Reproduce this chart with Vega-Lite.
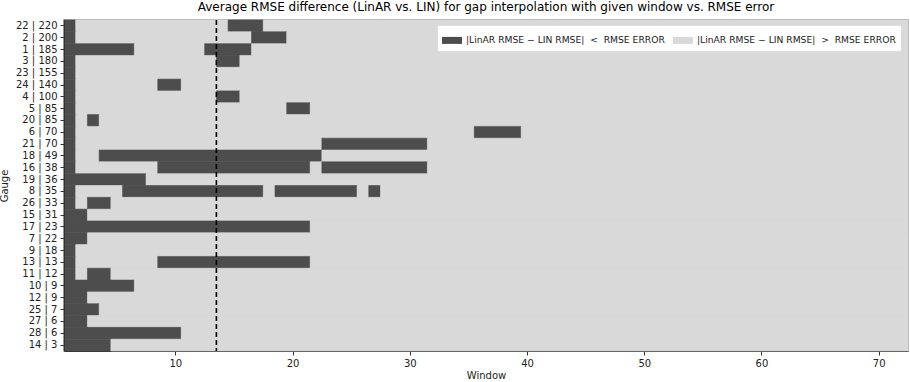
{
  "$schema": "https://vega.github.io/schema/vega-lite/v6.json",
  "autosize": {"type": "none"},
  "width": 844,
  "height": 331,
  "padding": {"left": 64, "top": 20, "right": 2, "bottom": 31},
  "background": "white",
  "title": {"text": "Average RMSE difference (LinAR vs. LIN) for gap interpolation with given window vs. RMSE error", "font": "DejaVu Sans", "fontSize": 12, "fontWeight": "normal", "color": "#000000", "offset": 5},
  "config": {
    "view": {"stroke": "#999999", "strokeWidth": 1.5, "fill": "#d9d9d9"},
    "font": "DejaVu Sans"
  },
  "datasets": {
    "cells": [
      {"gauge": "22 | 220", "from": 1, "to": 1, "status": "below"}, {"gauge": "22 | 220", "from": 2, "to": 14, "status": "above"}, {"gauge": "22 | 220", "from": 15, "to": 17, "status": "below"}, {"gauge": "22 | 220", "from": 18, "to": 72, "status": "above"},
      {"gauge": "2 | 200", "from": 1, "to": 1, "status": "below"}, {"gauge": "2 | 200", "from": 2, "to": 16, "status": "above"}, {"gauge": "2 | 200", "from": 17, "to": 19, "status": "below"}, {"gauge": "2 | 200", "from": 20, "to": 72, "status": "above"},
      {"gauge": "1 | 185", "from": 1, "to": 6, "status": "below"}, {"gauge": "1 | 185", "from": 7, "to": 12, "status": "above"}, {"gauge": "1 | 185", "from": 13, "to": 16, "status": "below"}, {"gauge": "1 | 185", "from": 17, "to": 72, "status": "above"},
      {"gauge": "3 | 180", "from": 1, "to": 1, "status": "below"}, {"gauge": "3 | 180", "from": 2, "to": 13, "status": "above"}, {"gauge": "3 | 180", "from": 14, "to": 15, "status": "below"}, {"gauge": "3 | 180", "from": 16, "to": 72, "status": "above"},
      {"gauge": "23 | 155", "from": 1, "to": 1, "status": "below"}, {"gauge": "23 | 155", "from": 2, "to": 72, "status": "above"},
      {"gauge": "24 | 140", "from": 1, "to": 1, "status": "below"}, {"gauge": "24 | 140", "from": 2, "to": 8, "status": "above"}, {"gauge": "24 | 140", "from": 9, "to": 10, "status": "below"}, {"gauge": "24 | 140", "from": 11, "to": 72, "status": "above"},
      {"gauge": "4 | 100", "from": 1, "to": 1, "status": "below"}, {"gauge": "4 | 100", "from": 2, "to": 13, "status": "above"}, {"gauge": "4 | 100", "from": 14, "to": 15, "status": "below"}, {"gauge": "4 | 100", "from": 16, "to": 72, "status": "above"},
      {"gauge": "5 | 85", "from": 1, "to": 1, "status": "below"}, {"gauge": "5 | 85", "from": 2, "to": 19, "status": "above"}, {"gauge": "5 | 85", "from": 20, "to": 21, "status": "below"}, {"gauge": "5 | 85", "from": 22, "to": 72, "status": "above"},
      {"gauge": "20 | 85", "from": 1, "to": 1, "status": "below"}, {"gauge": "20 | 85", "from": 2, "to": 2, "status": "above"}, {"gauge": "20 | 85", "from": 3, "to": 3, "status": "below"}, {"gauge": "20 | 85", "from": 4, "to": 72, "status": "above"},
      {"gauge": "6 | 70", "from": 1, "to": 1, "status": "below"}, {"gauge": "6 | 70", "from": 2, "to": 35, "status": "above"}, {"gauge": "6 | 70", "from": 36, "to": 39, "status": "below"}, {"gauge": "6 | 70", "from": 40, "to": 72, "status": "above"},
      {"gauge": "21 | 70", "from": 1, "to": 1, "status": "below"}, {"gauge": "21 | 70", "from": 2, "to": 22, "status": "above"}, {"gauge": "21 | 70", "from": 23, "to": 31, "status": "below"}, {"gauge": "21 | 70", "from": 32, "to": 72, "status": "above"},
      {"gauge": "18 | 49", "from": 1, "to": 1, "status": "below"}, {"gauge": "18 | 49", "from": 2, "to": 3, "status": "above"}, {"gauge": "18 | 49", "from": 4, "to": 22, "status": "below"}, {"gauge": "18 | 49", "from": 23, "to": 72, "status": "above"},
      {"gauge": "16 | 38", "from": 1, "to": 1, "status": "below"}, {"gauge": "16 | 38", "from": 2, "to": 8, "status": "above"}, {"gauge": "16 | 38", "from": 9, "to": 21, "status": "below"}, {"gauge": "16 | 38", "from": 22, "to": 22, "status": "above"}, {"gauge": "16 | 38", "from": 23, "to": 31, "status": "below"}, {"gauge": "16 | 38", "from": 32, "to": 72, "status": "above"},
      {"gauge": "19 | 36", "from": 1, "to": 7, "status": "below"}, {"gauge": "19 | 36", "from": 8, "to": 72, "status": "above"},
      {"gauge": "8 | 35", "from": 1, "to": 1, "status": "below"}, {"gauge": "8 | 35", "from": 2, "to": 5, "status": "above"}, {"gauge": "8 | 35", "from": 6, "to": 17, "status": "below"}, {"gauge": "8 | 35", "from": 18, "to": 18, "status": "above"}, {"gauge": "8 | 35", "from": 19, "to": 25, "status": "below"}, {"gauge": "8 | 35", "from": 26, "to": 26, "status": "above"}, {"gauge": "8 | 35", "from": 27, "to": 27, "status": "below"}, {"gauge": "8 | 35", "from": 28, "to": 72, "status": "above"},
      {"gauge": "26 | 33", "from": 1, "to": 1, "status": "below"}, {"gauge": "26 | 33", "from": 2, "to": 2, "status": "above"}, {"gauge": "26 | 33", "from": 3, "to": 4, "status": "below"}, {"gauge": "26 | 33", "from": 5, "to": 72, "status": "above"},
      {"gauge": "15 | 31", "from": 1, "to": 2, "status": "below"}, {"gauge": "15 | 31", "from": 3, "to": 72, "status": "above"},
      {"gauge": "17 | 23", "from": 1, "to": 21, "status": "below"}, {"gauge": "17 | 23", "from": 22, "to": 72, "status": "above"},
      {"gauge": "7 | 22", "from": 1, "to": 2, "status": "below"}, {"gauge": "7 | 22", "from": 3, "to": 72, "status": "above"},
      {"gauge": "9 | 18", "from": 1, "to": 1, "status": "below"}, {"gauge": "9 | 18", "from": 2, "to": 72, "status": "above"},
      {"gauge": "13 | 13", "from": 1, "to": 1, "status": "below"}, {"gauge": "13 | 13", "from": 2, "to": 8, "status": "above"}, {"gauge": "13 | 13", "from": 9, "to": 21, "status": "below"}, {"gauge": "13 | 13", "from": 22, "to": 72, "status": "above"},
      {"gauge": "11 | 12", "from": 1, "to": 1, "status": "below"}, {"gauge": "11 | 12", "from": 2, "to": 2, "status": "above"}, {"gauge": "11 | 12", "from": 3, "to": 4, "status": "below"}, {"gauge": "11 | 12", "from": 5, "to": 72, "status": "above"},
      {"gauge": "10 | 9", "from": 1, "to": 6, "status": "below"}, {"gauge": "10 | 9", "from": 7, "to": 72, "status": "above"},
      {"gauge": "12 | 9", "from": 1, "to": 2, "status": "below"}, {"gauge": "12 | 9", "from": 3, "to": 72, "status": "above"},
      {"gauge": "25 | 7", "from": 1, "to": 3, "status": "below"}, {"gauge": "25 | 7", "from": 4, "to": 72, "status": "above"},
      {"gauge": "27 | 6", "from": 1, "to": 2, "status": "below"}, {"gauge": "27 | 6", "from": 3, "to": 72, "status": "above"},
      {"gauge": "28 | 6", "from": 1, "to": 10, "status": "below"}, {"gauge": "28 | 6", "from": 11, "to": 72, "status": "above"},
      {"gauge": "14 | 3", "from": 1, "to": 4, "status": "below"}, {"gauge": "14 | 3", "from": 5, "to": 72, "status": "above"}
    ],
    "threshold": [{"window": 13.5}]
  },
  "layer": [
    {
      "data": {"name": "cells"},
      "transform": [
        {"calculate": "datum.from - 0.5", "as": "x0"},
        {"calculate": "datum.to + 0.5", "as": "x1"}
      ],
      "mark": {"type": "rect", "strokeWidth": 0.6},
      "encoding": {
        "x": {"field": "x0", "type": "quantitative",
          "scale": {"domain": [0.5, 72.5], "nice": false, "zero": false},
          "axis": {"title": "Window", "values": [10, 20, 30, 40, 50, 60, 70], "grid": false, "tickSize": 4, "tickColor": "#333333", "domainColor": "#333333", "labelFont": "DejaVu Sans", "labelFontSize": 10, "labelColor": "#222222", "titleFont": "DejaVu Sans", "titleFontSize": 10, "titleFontWeight": "normal", "titleColor": "#222222", "titlePadding": 2, "labelPadding": 3}},
        "x2": {"field": "x1"},
        "y": {"field": "gauge", "type": "nominal",
          "sort": ["22 | 220", "2 | 200", "1 | 185", "3 | 180", "23 | 155", "24 | 140", "4 | 100", "5 | 85", "20 | 85", "6 | 70", "21 | 70", "18 | 49", "16 | 38", "19 | 36", "8 | 35", "26 | 33", "15 | 31", "17 | 23", "7 | 22", "9 | 18", "13 | 13", "11 | 12", "10 | 9", "12 | 9", "25 | 7", "27 | 6", "28 | 6", "14 | 3"],
          "scale": {"paddingInner": 0, "paddingOuter": 0},
          "axis": {"title": "Gauge", "grid": false, "tickSize": 4, "tickColor": "#333333", "domainColor": "#333333", "labelFont": "DejaVu Sans", "labelFontSize": 10, "labelColor": "#222222", "titleFont": "DejaVu Sans", "titleFontSize": 10, "titleFontWeight": "normal", "titleColor": "#222222", "titlePadding": 6, "labelPadding": 3}},
        "color": {"field": "status", "type": "nominal",
          "scale": {"domain": ["below", "above"], "range": ["#4d4d4d", "#d9d9d9"]},
          "legend": {"title": null, "orient": "none", "legendX": 373, "legendY": 5, "direction": "horizontal",
            "labelExpr": "datum.value == 'below' ? '|LinAR RMSE \u2212 LIN RMSE| \u00a0<\u00a0 RMSE ERROR' : '|LinAR RMSE \u2212 LIN RMSE| \u00a0>\u00a0 RMSE ERROR'",
            "symbolType": "M-1,-0.35H1V0.35H-1Z", "symbolSize": 400, "symbolStrokeWidth": 0,
            "labelFont": "DejaVu Sans", "labelFontSize": 9.2, "labelColor": "#222222",
            "fillColor": "white", "strokeColor": "#dddddd", "padding": 5, "cornerRadius": 2, "columnPadding": 8, "labelLimit": 300}},
        "stroke": {"field": "status", "type": "nominal",
          "scale": {"domain": ["below", "above"], "range": ["#4d4d4d", "#d9d9d9"]},
          "legend": null}
      }
    },
    {
      "data": {"name": "threshold"},
      "mark": {"type": "rule", "color": "#000000", "strokeWidth": 1.6, "strokeDash": [5, 3]},
      "encoding": {"x": {"field": "window", "type": "quantitative"}}
    }
  ]
}
